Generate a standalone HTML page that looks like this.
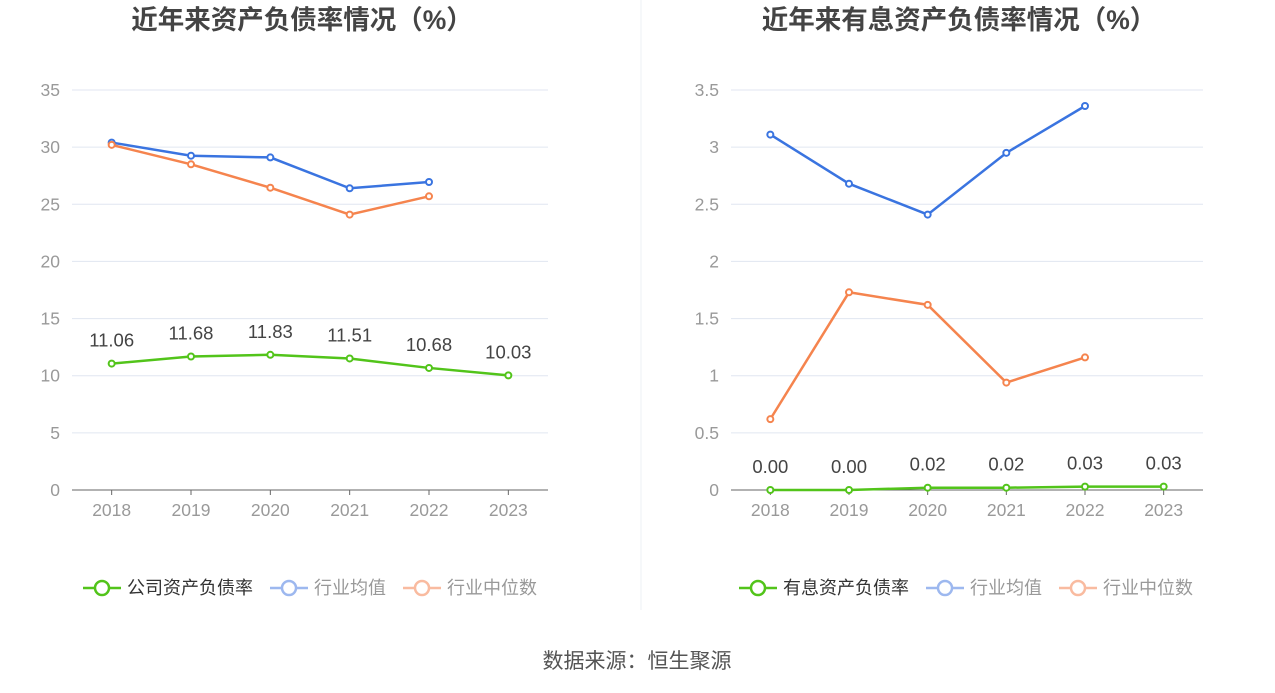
<!DOCTYPE html>
<html><head><meta charset="utf-8"><style>
body{margin:0;background:#fff;font-family:"Liberation Sans","Noto Sans CJK SC",sans-serif;}
svg text{font-family:"Liberation Sans","Noto Sans CJK SC",sans-serif;}
</style></head><body>
<svg id="s" width="1275" height="688" xmlns="http://www.w3.org/2000/svg">
<line x1="641" y1="0" x2="641" y2="610" stroke="#eef0f4"/>
<text x="637" y="668" text-anchor="middle" font-size="21" fill="#555">数据来源：恒生聚源</text>
</svg>
<script>
const years=["2018","2019","2020","2021","2022","2023"];
const leftCompany=[11.06,11.68,11.83,11.51,10.68,10.03];
const leftAvg=[30.4,29.25,29.1,26.4,26.95];
const leftMedian=[30.2,28.5,26.45,24.1,25.7];
const leftTicks=[0,5,10,15,20,25,30,35];
const rightCompany=[0.00,0.00,0.02,0.02,0.03,0.03];
const rightAvg=[3.11,2.68,2.41,2.95,3.36];
const rightMedian=[0.62,1.73,1.62,0.94,1.16];
const rightTicks=[0,0.5,1,1.5,2,2.5,3,3.5];
const NS="http://www.w3.org/2000/svg";
const svg=document.getElementById('s');
function mk(t,a,p){const e=document.createElementNS(NS,t);for(const k in a)e.setAttribute(k,a[k]);(p||svg).appendChild(e);return e;}
const G='#52c41a',B='#3a74e0',O='#f5844e';
function chart(o){
  const g=mk('g',{});
  
  
  const x0=o.x0,x1=o.x1,yB=490,yT=90,max=o.ticks[o.ticks.length-1];
  const bw=(x1-x0)/years.length;
  const xs=i=>x0+bw*(i+0.5);
  const ys=v=>yB-(v/max)*(yB-yT);
  const t=mk('text',{x:(x0+x1)/2-8,y:29,'text-anchor':'middle','font-size':26.5,'font-weight':'bold',fill:'#444'},g);
  t.textContent=o.title;
  
  
  o.ticks.forEach(v=>{
    const y=ys(v);
    if(v>0){const l=mk('line',{x1:x0,x2:x1,y1:y,y2:y,stroke:'#e0e6f1'},g);
      
      }
    const tx=mk('text',{x:x0-12,y:y+6,'text-anchor':'end','font-size':17.5,fill:'#999'},g);
    tx.textContent=String(v);
    
    
  });
  const ax=mk('line',{x1:x0,x2:x1,y1:yB,y2:yB,stroke:'#666'},g);
  
  
  years.forEach((yr,i)=>{
    const tk=mk('line',{x1:xs(i),x2:xs(i),y1:yB,y2:yB+5,stroke:'#666'},g);
    
    
    const tx=mk('text',{x:xs(i),y:516,'text-anchor':'middle','font-size':17.5,fill:'#999'},g);
    tx.textContent=yr;
    
    
  });
  function series(vals,c,name,labels){
    const p=mk('polyline',{points:vals.map((v,i)=>xs(i)+','+ys(v)).join(' '),fill:'none',stroke:c,'stroke-width':2.5},g);
    
    
    vals.forEach((v,i)=>{
      const c2=mk('circle',{cx:xs(i),cy:ys(v),r:3,fill:'#fff',stroke:c,'stroke-width':2},g);
      
      
      if(labels){const tx=mk('text',{x:xs(i),y:ys(v)-17,'text-anchor':'middle','font-size':18.5,fill:'#444'},g);
        tx.textContent=v.toFixed(2);
        
        }
    });
  }
  series(o.avg,B,'industry-average');
  series(o.med,O,'industry-median');
  series(o.comp,G,'company',true);
  const items=[[o.lname,G,'#333'],['行业均值','#9db8ef','#999'],['行业中位数','#f9bba0','#999']];
  let cx=o.lx;
  items.forEach((it,k)=>{
    const lg=mk('g',{},g);
    
    
    mk('line',{x1:cx,x2:cx+38,y1:588,y2:588,stroke:it[1],'stroke-width':2.5},lg);
    mk('circle',{cx:cx+19,cy:588,r:7,fill:'#fff',stroke:it[1],'stroke-width':2.5},lg);
    const tx=mk('text',{x:cx+44,y:594,'font-size':18,fill:it[2]},lg);
    tx.textContent=it[0];
    cx+=44+it[0].length*18+17;
  });
}
chart({id:'left-chart',title:'近年来资产负债率情况（%）',x0:72,x1:548,ticks:leftTicks,comp:leftCompany,avg:leftAvg,med:leftMedian,lname:'公司资产负债率',lx:83});
chart({id:'right-chart',title:'近年来有息资产负债率情况（%）',x0:731,x1:1203,ticks:rightTicks,comp:rightCompany,avg:rightAvg,med:rightMedian,lname:'有息资产负债率',lx:739});
</script>
</body></html>
